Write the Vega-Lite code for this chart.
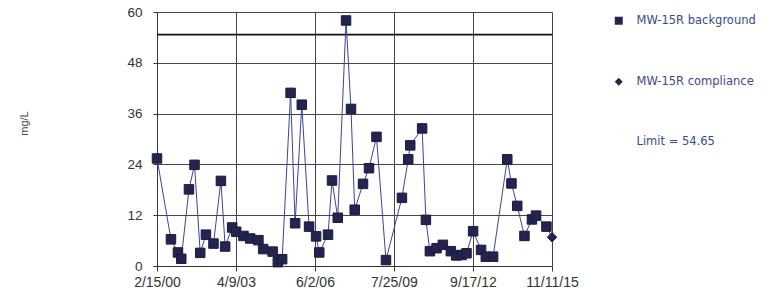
{
  "$schema": "https://vega.github.io/schema/vega-lite/v6.json",
  "width": 395,
  "height": 254,
  "autosize": {"type": "none"},
  "padding": {"left": 157, "top": 12, "right": 224, "bottom": 31},
  "background": "white",
  "config": {"view": {"stroke": null}, "font": "Liberation Sans"},
  "data": {
    "values": [
      {"date": "2000-02-15", "value": 25.4, "series": "MW-15R background"},
      {"date": "2000-09-05", "value": 6.3, "series": "MW-15R background"},
      {"date": "2000-12-16", "value": 3.2, "series": "MW-15R background"},
      {"date": "2001-02-02", "value": 1.7, "series": "MW-15R background"},
      {"date": "2001-05-25", "value": 18.1, "series": "MW-15R background"},
      {"date": "2001-08-14", "value": 23.9, "series": "MW-15R background"},
      {"date": "2001-11-05", "value": 3.1, "series": "MW-15R background"},
      {"date": "2002-01-27", "value": 7.4, "series": "MW-15R background"},
      {"date": "2002-05-17", "value": 5.3, "series": "MW-15R background"},
      {"date": "2002-09-02", "value": 20.1, "series": "MW-15R background"},
      {"date": "2002-11-03", "value": 4.6, "series": "MW-15R background"},
      {"date": "2003-02-13", "value": 9.1, "series": "MW-15R background"},
      {"date": "2003-04-12", "value": 8.1, "series": "MW-15R background"},
      {"date": "2003-07-27", "value": 7.1, "series": "MW-15R background"},
      {"date": "2003-11-02", "value": 6.5, "series": "MW-15R background"},
      {"date": "2004-03-01", "value": 6.1, "series": "MW-15R background"},
      {"date": "2004-05-09", "value": 4.0, "series": "MW-15R background"},
      {"date": "2004-09-24", "value": 3.4, "series": "MW-15R background"},
      {"date": "2004-12-08", "value": 0.9, "series": "MW-15R background"},
      {"date": "2005-02-09", "value": 1.6, "series": "MW-15R background"},
      {"date": "2005-06-12", "value": 40.9, "series": "MW-15R background"},
      {"date": "2005-08-17", "value": 10.1, "series": "MW-15R background"},
      {"date": "2005-11-22", "value": 38.1, "series": "MW-15R background"},
      {"date": "2006-03-08", "value": 9.3, "series": "MW-15R background"},
      {"date": "2006-06-18", "value": 7.0, "series": "MW-15R background"},
      {"date": "2006-08-03", "value": 3.2, "series": "MW-15R background"},
      {"date": "2006-12-09", "value": 7.4, "series": "MW-15R background"},
      {"date": "2007-02-05", "value": 20.2, "series": "MW-15R background"},
      {"date": "2007-04-29", "value": 11.4, "series": "MW-15R background"},
      {"date": "2007-08-28", "value": 58.0, "series": "MW-15R background"},
      {"date": "2007-11-08", "value": 37.1, "series": "MW-15R background"},
      {"date": "2008-01-01", "value": 13.3, "series": "MW-15R background"},
      {"date": "2008-05-01", "value": 19.4, "series": "MW-15R background"},
      {"date": "2008-07-27", "value": 23.1, "series": "MW-15R background"},
      {"date": "2008-11-13", "value": 30.5, "series": "MW-15R background"},
      {"date": "2009-03-31", "value": 1.4, "series": "MW-15R background"},
      {"date": "2009-11-18", "value": 16.1, "series": "MW-15R background"},
      {"date": "2010-02-18", "value": 25.2, "series": "MW-15R background"},
      {"date": "2010-03-19", "value": 28.5, "series": "MW-15R background"},
      {"date": "2010-09-08", "value": 32.5, "series": "MW-15R background"},
      {"date": "2010-11-02", "value": 10.9, "series": "MW-15R background"},
      {"date": "2010-12-30", "value": 3.5, "series": "MW-15R background"},
      {"date": "2011-04-06", "value": 4.2, "series": "MW-15R background"},
      {"date": "2011-07-07", "value": 5.0, "series": "MW-15R background"},
      {"date": "2011-10-31", "value": 3.5, "series": "MW-15R background"},
      {"date": "2012-01-16", "value": 2.5, "series": "MW-15R background"},
      {"date": "2012-04-04", "value": 2.6, "series": "MW-15R background"},
      {"date": "2012-06-15", "value": 3.0, "series": "MW-15R background"},
      {"date": "2012-09-19", "value": 8.2, "series": "MW-15R background"},
      {"date": "2013-01-13", "value": 3.8, "series": "MW-15R background"},
      {"date": "2013-03-23", "value": 2.2, "series": "MW-15R background"},
      {"date": "2013-07-07", "value": 2.2, "series": "MW-15R background"},
      {"date": "2014-01-29", "value": 25.2, "series": "MW-15R background"},
      {"date": "2014-03-31", "value": 19.5, "series": "MW-15R background"},
      {"date": "2014-06-23", "value": 14.2, "series": "MW-15R background"},
      {"date": "2014-10-06", "value": 7.1, "series": "MW-15R background"},
      {"date": "2015-01-23", "value": 11.0, "series": "MW-15R background"},
      {"date": "2015-03-24", "value": 11.9, "series": "MW-15R background"},
      {"date": "2015-08-22", "value": 9.3, "series": "MW-15R background"},
      {"date": "2015-11-11", "value": 6.8, "series": "MW-15R compliance"}
    ]
  },
  "encoding": {
    "x": {
      "field": "date",
      "type": "temporal",
      "scale": {
        "type": "utc",
        "domain": [
          {"year": 2000, "month": 2, "date": 15, "utc": true},
          {"year": 2015, "month": 11, "date": 11, "utc": true}
        ]
      },
      "axis": {
        "title": null,
        "values": [
          {"year": 2000, "month": 2, "date": 15, "utc": true},
          {"year": 2003, "month": 4, "date": 9, "utc": true},
          {"year": 2006, "month": 6, "date": 2, "utc": true},
          {"year": 2009, "month": 7, "date": 25, "utc": true},
          {"year": 2012, "month": 9, "date": 17, "utc": true},
          {"year": 2015, "month": 11, "date": 11, "utc": true}
        ],
        "labelExpr": "utcFormat(datum.value, '%-m/%-d/%y')",
        "labelFontSize": 14,
        "labelColor": "#333333",
        "labelPadding": 4,
        "labelFlush": false,
        "labelOverlap": false,
        "tickSize": 5,
        "tickColor": "#333333",
        "domainColor": "#333333",
        "grid": true,
        "gridColor": "#444444",
        "gridWidth": 1
      }
    },
    "y": {
      "field": "value",
      "type": "quantitative",
      "scale": {"domain": [0, 60], "nice": false},
      "axis": {
        "title": "mg/L",
        "titleFontSize": 11,
        "titleFontWeight": "normal",
        "titleColor": "#444444",
        "titleAngle": 270,
        "titleAlign": "center",
        "titleBaseline": "middle",
        "titleX": -133,
        "titleY": 111,
        "values": [0, 12, 24, 36, 48, 60],
        "labelFontSize": 13.5,
        "labelColor": "#333333",
        "labelPadding": 11,
        "labelFlush": false,
        "tickSize": 4,
        "tickColor": "#333333",
        "domainColor": "#333333",
        "grid": true,
        "gridColor": "#444444",
        "gridWidth": 1
      }
    }
  },
  "layer": [
    {
      "data": {"values": [{"limit": 54.65}]},
      "mark": {"type": "rule", "color": "#111111", "strokeWidth": 1.6},
      "encoding": {"x": null, "y": {"field": "limit", "type": "quantitative"}}
    },
    {
      "mark": {"type": "line", "color": "#3c4496", "strokeWidth": 1}
    },
    {
      "mark": {"type": "point", "filled": true, "size": 90, "opacity": 1, "stroke": "#1a1a40", "strokeWidth": 1},
      "encoding": {
        "color": {"value": "#24244f"},
        "shape": {
          "field": "series",
          "type": "nominal",
          "scale": {
            "domain": ["MW-15R background", "MW-15R compliance", "Limit = 54.65"],
            "range": ["square", "diamond", "M0,0"]
          },
          "legend": {
            "title": null,
            "orient": "none",
            "legendX": 456,
            "legendY": 3,
            "direction": "vertical",
            "columns": 1,
            "symbolSize": 64,
            "symbolFillColor": "#24244f",
            "symbolStrokeColor": "#1a1a40",
            "labelFont": "DejaVu Sans",
            "labelFontSize": 11.5,
            "labelColor": "#3a4a8c",
            "labelOffset": 12,
            "rowPadding": 46,
            "labelExpr": "datum.label === 'Limit = 54.65' ? '\u2003\u2003\u00a0Limit = 54.65' : datum.label",
            "encode": {
              "labels": {
                "fill": {"value": {"expr": "datum.value === 'Limit = 54.65' ? '#3a3a3a' : '#3a4a8c'"}},
                "fontSize": {"value": {"expr": "datum.value === 'Limit = 54.65' ? 11 : 11.5"}}
              }
            }
          }
        }
      }
    }
  ]
}
